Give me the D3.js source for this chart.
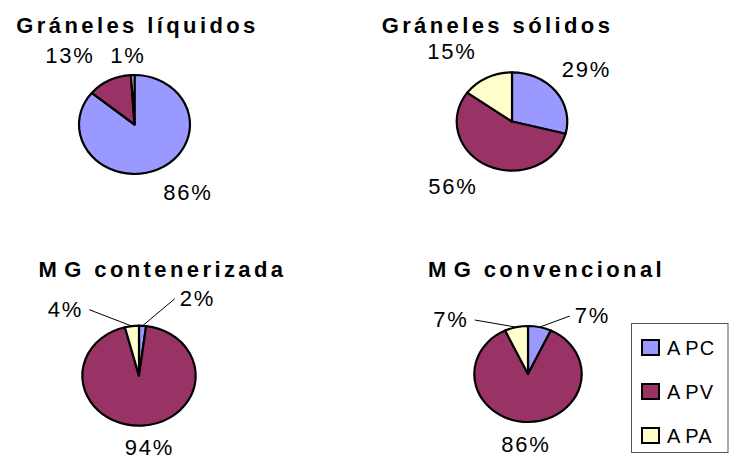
<!DOCTYPE html>
<html>
<head>
<meta charset="utf-8">
<script src="https://cdn.jsdelivr.net/npm/d3@7"></script>
<style>
  html, body { margin: 0; padding: 0; background: #fff; }
  svg { display: block; }
</style>
</head>
<body>
<svg id="chart" width="729" height="456"></svg>
<script>
// ---- data ----
const categories = ["APC", "APV", "APA"];
const chartTitles = ["Gráneles líquidos", "Gráneles sólidos", "MG contenerizada", "MG convencional"];
const liquidos = [86, 13, 1];
const solidos = [29, 56, 15];
const contenerizada = [2, 94, 4];
const convencional = [7, 86, 7];
const seriesValues = [liquidos, solidos, contenerizada, convencional];
const sliceColors = ["#9999FF", "#993366", "#FFFFCC"];

// ---- layout (positions of each pie, its title and its manually placed labels) ----
const layout = [
  { cx: 134.5, cy: 124.5, rx: 55.5, ry: 49.5, tx: 137.5, ty: 33, leaders: false,
    labels: [[53.5, 75.5], [-64.5, -61.5], [-6.5, -61.5]] },
  { cx: 512, cy: 121.5, rx: 55.3, ry: 49.2, tx: 497.5, ty: 32.5, leaders: false,
    labels: [[74.5, -44.5], [-59, 72.5], [-60, -62.5]] },
  { cx: 139, cy: 375.7, rx: 56.7, ry: 50, tx: 162.5, ty: 277, leaders: true,
    labels: [[58.5, -70], [10.5, 79], [-73.5, -59]] },
  { cx: 528, cy: 374, rx: 53.7, ry: 48, tx: 546.5, ty: 277, leaders: true,
    labels: [[64.5, -51], [-2, 77.7], [-77, -47]] }
];

const svg = d3.select("#chart");
const FONT = "'Liberation Sans', Arial, Helvetica, sans-serif";

const pie = d3.pie().sort(null).value(d => d);

seriesValues.forEach((vals, i) => {
  const L = layout[i];
  const arcs = pie(vals);
  const arc = d3.arc().innerRadius(0).outerRadius(L.rx);
  const sy = L.ry / L.rx;

  // title (first word split so "MG" keeps the gap seen in the reference)
  const title = svg.append("text")
    .attr("x", L.tx).attr("y", L.ty)
    .attr("text-anchor", "middle")
    .style("font-family", FONT)
    .style("font-weight", "bold")
    .style("font-size", "22px")
    .style("letter-spacing", "3.4px")
    .attr("fill", "#000");
  const tt = chartTitles[i];
  if (tt.startsWith("MG")) {
    title.append("tspan").text("M");
    title.append("tspan").attr("dx", 4).text(tt.slice(1));
  } else {
    title.text(tt);
  }

  // slices (circle pie squashed into an ellipse)
  const g = svg.append("g")
    .attr("transform", `translate(${L.cx},${L.cy}) scale(1,${sy})`);
  g.selectAll("path")
    .data(arcs)
    .join("path")
    .attr("d", arc)
    .attr("fill", (d, j) => sliceColors[j])
    .attr("stroke", "#000")
    .attr("stroke-width", 2.2)
    .attr("stroke-linejoin", "round")
    .attr("vector-effect", "non-scaling-stroke");

  // labels
  arcs.forEach((d, j) => {
    const [dx, dy] = L.labels[j];
    const t = svg.append("text")
      .attr("x", L.cx + dx).attr("y", L.cy + dy)
      .attr("text-anchor", "middle")
      .style("font-family", FONT)
      .style("font-size", "22px")
      .style("letter-spacing", "1.8px")
      .attr("fill", "#000")
      .text(vals[j] + "%");

    if (L.leaders && vals[j] < 10) {
      const bb = t.node().getBBox();
      const mid = (d.startAngle + d.endAngle) / 2;
      const ex = L.cx + Math.sin(mid) * L.rx;
      const ey = L.cy - Math.cos(mid) * L.ry;
      const labelX = L.cx + dx;
      const sx = labelX > ex ? bb.x - 5 : bb.x + bb.width + 6;
      const syy = L.cy + dy - 7;
      svg.append("line")
        .attr("x1", sx).attr("y1", syy)
        .attr("x2", ex).attr("y2", ey)
        .attr("stroke", "#000")
        .attr("stroke-width", 1);
    }
  });
});

// ---- legend ----
const legend = svg.append("g");
legend.append("rect")
  .attr("x", 631.5).attr("y", 323.5)
  .attr("width", 96.5).attr("height", 129)
  .attr("fill", "#fff")
  .attr("stroke", "#555")
  .attr("stroke-width", 1);

const ly = d3.scalePoint().domain(categories).range([347.5, 435.5]);
categories.forEach((c, j) => {
  legend.append("rect")
    .attr("x", 642).attr("y", ly(c) - 7.5)
    .attr("width", 17).attr("height", 15)
    .attr("fill", sliceColors[j])
    .attr("stroke", "#000")
    .attr("stroke-width", 2);
  const lt = legend.append("text")
    .attr("x", 667).attr("y", ly(c) + 7)
    .style("font-family", FONT)
    .style("font-size", "20px")
    .style("letter-spacing", "1px")
    .attr("fill", "#000");
  lt.append("tspan").text(c.slice(0, 1));
  lt.append("tspan").attr("dx", 4).text(c.slice(1));
});
</script>
</body>
</html>
